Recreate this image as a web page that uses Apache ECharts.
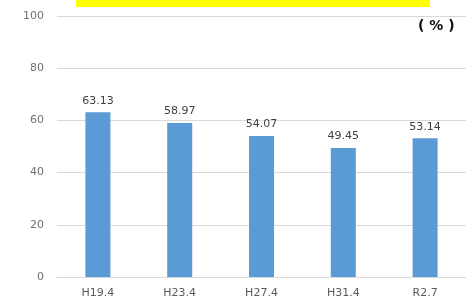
<!DOCTYPE html>
<html>
<head>
<meta charset="utf-8">
<script src="https://cdn.jsdelivr.net/npm/echarts@6/dist/echarts.min.js"></script>
<style>
html, body { margin: 0; padding: 0; background: #fff; }
#main { width: 466px; height: 302px; }
</style>
</head>
<body>
<div id="main"></div>
<script>
var categories = ['H19.4', 'H23.4', 'H27.4', 'H31.4', 'R2.7'];
var values = [63.13, 58.97, 54.07, 49.45, 53.14];
var unitLabel = '( % )';

var myChart = echarts.init(document.getElementById('main'));

var option = {
	backgroundColor: '#fff',
	animation: false,
	grid: {
		left: 57,
		right: -5,
		top: 16,
		bottom: 25
	},
	graphic: [{
		type: 'rect',
		shape: { x: 76, y: 0, width: 354, height: 7 },
		style: { fill: '#ffff00' }
	}, {
		type: 'text',
		left: 418,
		top: 19,
		style: {
			text: unitLabel,
			fontFamily: 'DejaVu Sans',
			fontSize: 14,
			fontWeight: 'bold',
			fill: '#111'
		}
	}],
	xAxis: {
		type: 'category',
		data: categories,
		axisLine: { lineStyle: { color: '#d9d9d9' } },
		axisTick: { show: false },
		axisLabel: { color: '#595959', fontSize: 11, margin: 11, fontFamily: 'DejaVu Sans' }
	},
	yAxis: {
		type: 'value',
		min: 0,
		max: 100,
		interval: 20,
		axisLine: { show: false },
		axisTick: { show: false },
		splitLine: { lineStyle: { color: '#d9d9d9' } },
		axisLabel: { color: '#6f6f6f', fontSize: 11, margin: 13, fontFamily: 'DejaVu Sans' }
	},
	series: [{
		type: 'bar',
		data: values,
		barWidth: 25,
		itemStyle: { color: '#5b9bd5' },
		label: {
			show: true,
			position: 'top',
			distance: 6,
			color: '#404040',
			fontSize: 11,
			fontFamily: 'DejaVu Sans',
			formatter: function(p) { return p.value.toFixed(2); }
		}
	}]
};
myChart.setOption(option);
</script>
</body>
</html>
